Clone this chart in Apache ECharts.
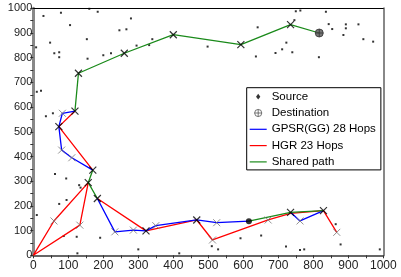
<!DOCTYPE html>
<html>
<head>
<meta charset="utf-8">
<script src="https://cdn.jsdelivr.net/npm/echarts/dist/echarts.min.js"></script>
<style>
  html, body { margin: 0; padding: 0; background: #fff; }
  #main { width: 401px; height: 277px; }
</style>
</head>
<body>
<div id="main"></div>
<script>
// node coordinates in metres
var sourceNode = [[616, 138]];
var destNode = [[817, 900]];

var sharedA = [[616, 138], [735, 174], [829, 181]];
var sharedB = [[183, 230], [157, 294], [170, 345]];
var sharedC = [[119, 584], [129, 737], [260, 818], [400, 893], [593, 853], [735, 934], [817, 900]];

var gpsrA = [[735, 174], [762, 139], [829, 181]];
var gpsrB = [[616, 138], [524, 132], [467, 143], [350, 120], [322, 99], [286, 102], [233, 95], [183, 230]];
var gpsrC = [[170, 345], [110, 395], [81, 426], [73, 521], [83, 575], [119, 584]];

var hgrA = [[867, 93], [829, 181], [735, 170], [671, 143], [512, 62], [467, 143], [322, 99], [183, 230]];
var hgrB = [[157, 294], [59, 139], [0, 0], [133, 122], [157, 294]];
var hgrC = [[170, 345], [73, 521], [119, 584]];

// hop markers
var hopsBoth = [[119, 584], [129, 737], [260, 818], [400, 893], [593, 853], [735, 934], [73, 521],
  [170, 345], [157, 294], [183, 230], [322, 99], [467, 143], [735, 174], [829, 181]];
var hopsOne = [[83, 575], [81, 426], [110, 395], [59, 139], [133, 122], [233, 95], [286, 102],
  [350, 120], [524, 132], [512, 62], [671, 143], [762, 139], [867, 93]];

// other nodes in the network
var otherNodes = [[29, 969], [79, 982], [160, 998], [184, 986], [279, 959], [105, 932], [246, 911],
  [266, 915], [48, 861], [8, 842], [153, 875], [60, 818], [74, 822], [74, 802], [155, 796],
  [200, 810], [222, 818], [295, 849], [331, 851], [340, 875], [10, 662], [22, 666], [36, 563],
  [56, 575], [62, 329], [94, 311], [10, 163], [74, 208], [95, 224], [131, 284], [135, 274],
  [87, 78], [124, 75], [126, 8], [191, 71], [300, 24], [417, 8], [510, 37], [528, 24],
  [592, 69], [651, 80], [722, 36], [762, 21], [774, 24], [864, 126], [878, 44], [990, 24],
  [498, 845], [641, 923], [723, 861], [711, 834], [692, 819], [740, 822], [636, 805],
  [816, 802], [750, 988], [763, 991], [836, 986], [844, 936], [854, 916], [893, 935],
  [893, 919], [929, 935], [886, 892], [943, 875], [971, 865], [746, 952]];

var FONT = 'Liberation Sans';
var BLUE = '#0000ff', RED = '#ff0000', GREEN = '#1a8a1a';
var crossPath = 'path://M0,0L10,10M10,0L0,10';
var destPath = 'path://M0,5A5,5 0 1,1 10,5A5,5 0 1,1 0,5ZM5,0L5,10M0,5L10,5';
var destIcon = 'path://M0,0M14,14M2,7A5,5 0 1,1 12,7A5,5 0 1,1 2,7ZM7,2L7,12M2,7L12,7';
var srcIcon = 'path://M0,0M10,14M5,3L8,7L5,11L2,7Z';
var lineIcon = 'path://M0,4.4L17,4.4L17,5.6L0,5.6Z';

function plain(v) { return String(v); }

function lineSeries(name, data, color, z) {
  return {
    name: name, type: 'line', data: data, symbol: 'none', z: z,
    lineStyle: { color: color, width: 1.3 }, itemStyle: { color: color },
    animation: false, silent: true
  };
}

var chartDom = document.getElementById('main');
var myChart = echarts.init(chartDom);

var option = {
  animation: false,
  grid: { left: 33.3, right: 17.7, top: 8.3, bottom: 21.7, containLabel: false },
  xAxis: [{
    type: 'value', min: 0, max: 1000, interval: 100, position: 'bottom',
    axisLine: { show: true, onZero: false, lineStyle: { color: '#666', width: 2 } },
    axisTick: { show: true, length: 3, lineStyle: { color: '#333' } },
    minorTick: { show: true, splitNumber: 2, length: 3, lineStyle: { color: '#333' } },
    axisLabel: { fontSize: 12, color: '#222', margin: 4, fontFamily: FONT, formatter: plain },
    splitLine: { show: false }
  }, {
    type: 'value', min: 0, max: 1000, position: 'top',
    axisLine: { show: true, onZero: false, lineStyle: { color: '#000', width: 1 } },
    axisTick: { show: false }, axisLabel: { show: false }, splitLine: { show: false }
  }],
  yAxis: [{
    type: 'value', min: 0, max: 1000, interval: 100, position: 'left',
    axisLine: { show: true, onZero: false, lineStyle: { color: '#888', width: 3 } },
    axisTick: { show: true, length: 3, lineStyle: { color: '#333' } },
    minorTick: { show: true, splitNumber: 2, length: 3, lineStyle: { color: '#333' } },
    axisLabel: { fontSize: 11, color: '#222', margin: 1, fontFamily: FONT, formatter: plain },
    splitLine: { show: false }
  }, {
    type: 'value', min: 0, max: 1000, position: 'right',
    axisLine: { show: true, onZero: false, lineStyle: { color: '#888', width: 2 } },
    axisTick: { show: false }, axisLabel: { show: false }, splitLine: { show: false }
  }],
  legend: {
    orient: 'vertical', left: 246.7, top: 87.7,
    backgroundColor: '#fff', borderColor: '#000', borderWidth: 1, borderRadius: 0,
    padding: [3, 5, 2, 3], itemWidth: 17, itemHeight: 10, itemGap: 4.3,
    textStyle: { fontSize: 11.5, color: '#000', fontFamily: FONT, lineHeight: 12, width: 97, overflow: 'none' },
    data: [
      { name: 'Source', icon: srcIcon, itemStyle: { color: '#000' } },
      { name: 'Destination', icon: destIcon, itemStyle: { color: 'rgba(0,0,0,0)', borderColor: '#555', borderWidth: 1 } },
      { name: 'GPSR(GG) 28 Hops', icon: lineIcon, itemStyle: { color: BLUE } },
      { name: 'HGR 23 Hops', icon: lineIcon, itemStyle: { color: RED } },
      { name: 'Shared path', icon: lineIcon, itemStyle: { color: GREEN } }
    ],
    z: 20
  },
  series: [
    {
      name: 'nodes', type: 'scatter', data: otherNodes, symbol: 'rect', symbolSize: 2,
      itemStyle: { color: '#000' }, z: 2, silent: true
    },
    lineSeries('HGR 23 Hops', hgrA, RED, 3),
    lineSeries('HGR 23 Hops', hgrB, RED, 3),
    lineSeries('HGR 23 Hops', hgrC, RED, 3),
    lineSeries('GPSR(GG) 28 Hops', gpsrA, BLUE, 4),
    lineSeries('GPSR(GG) 28 Hops', gpsrB, BLUE, 4),
    lineSeries('GPSR(GG) 28 Hops', gpsrC, BLUE, 4),
    lineSeries('Shared path', sharedA, GREEN, 5),
    lineSeries('Shared path', sharedB, GREEN, 5),
    lineSeries('Shared path', sharedC, GREEN, 5),
    {
      name: 'hops1', type: 'scatter', data: hopsOne, symbol: crossPath, symbolSize: 7,
      itemStyle: { color: 'rgba(0,0,0,0)', borderColor: '#777', borderWidth: 1 }, z: 6, silent: true
    },
    {
      name: 'hops2', type: 'scatter', data: hopsBoth, symbol: crossPath, symbolSize: 7,
      itemStyle: { color: 'rgba(0,0,0,0)', borderColor: '#000', borderWidth: 1.2 }, z: 7, silent: true
    },
    {
      name: 'Source', type: 'scatter', data: sourceNode, symbol: 'circle', symbolSize: 6,
      itemStyle: { color: '#000' }, z: 8, silent: true
    },
    {
      name: 'Destination', type: 'scatter', data: destNode, symbol: destPath, symbolSize: 8,
      itemStyle: { color: '#555', borderColor: '#333', borderWidth: 1 }, z: 8, silent: true
    }
  ]
};

myChart.setOption(option);
</script>
</body>
</html>
